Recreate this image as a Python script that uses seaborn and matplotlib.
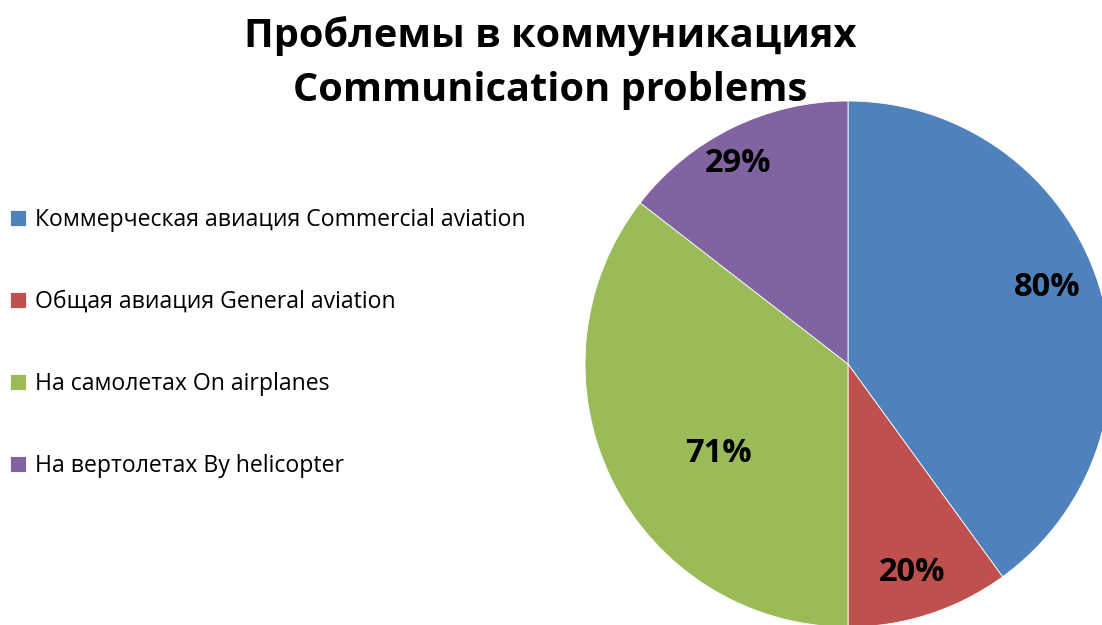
import numpy as np
import matplotlib
matplotlib.use("Agg")
import matplotlib.pyplot as plt
import seaborn as sns

categories = [
    "Коммерческая авиация Commercial aviation",
    "Общая авиация General aviation",
    "На самолетах On airplanes",
    "На вертолетах By helicopter",
]
values = [80, 20, 71, 29]
value_labels = ["80%", "20%", "71%", "29%"]
title_lines = ["Проблемы в коммуникациях", "Communication problems"]

colors = ["#4F81BD", "#C0504D", "#9BBB59", "#8064A2"]
label_radius = [0.81, 0.83, 0.60, 0.87]
label_angle_shift = [3.0, -1.0, 8.5, 2.6]

sns.set_theme(style="white")
plt.rcParams["font.family"] = ["Open Sans", "DejaVu Sans"]
plt.rcParams["text.color"] = "black"

W, H = 1102, 625
fig = plt.figure(figsize=(W / 100, H / 100), dpi=100)

cx, cy, r = 848, 364, 263
ax = fig.add_axes([(cx - r) / W, (H - cy - r) / H, 2 * r / W, 2 * r / H])
wedges, _ = ax.pie(values, colors=colors, startangle=90, counterclock=False,
                   radius=1.0, wedgeprops=dict(edgecolor="white", linewidth=0.6))
ax.set_xlim(-1, 1)
ax.set_ylim(-1, 1)
ax.set_aspect("equal")
ax.axis("off")

for w, lab, rf, da in zip(wedges, value_labels, label_radius, label_angle_shift):
    ang = np.deg2rad((w.theta1 + w.theta2) / 2 + da)
    ax.text(rf * np.cos(ang), rf * np.sin(ang), lab, ha="center", va="center",
            fontsize=23.5, fontweight="bold", color="black")

fig.text(550 / W, 1 - 36 / H, title_lines[0], ha="center", va="center",
         fontsize=28.6, fontweight="bold", color="black")
fig.text(550 / W, 1 - 91 / H, title_lines[1], ha="center", va="center",
         fontsize=28.6, fontweight="bold", color="black")

leg = fig.legend(wedges, categories, loc="upper left",
                 bbox_to_anchor=(10 / W, 1 - 208 / H), frameon=False,
                 fontsize=16.6, handlelength=0.7, handleheight=0.7,
                 handletextpad=0.4, labelspacing=2.52, borderpad=0, borderaxespad=0)
for t in leg.get_texts():
    t.set_color("black")

fig.savefig("out.png", dpi=100)
